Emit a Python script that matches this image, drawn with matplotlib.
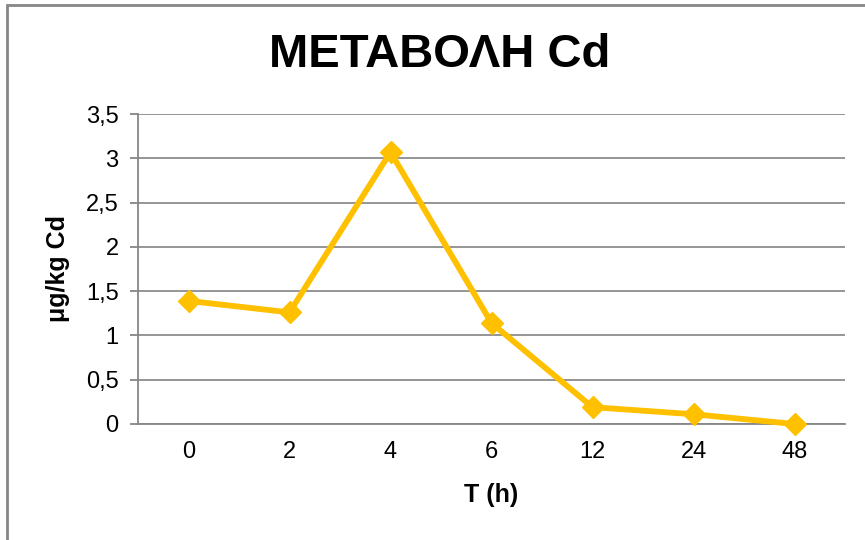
import numpy as np
import matplotlib
matplotlib.use("Agg")
import matplotlib.pyplot as plt
from matplotlib.patches import Rectangle

plt.rcParams['font.family'] = ['Liberation Sans', 'DejaVu Sans']

hours = ["0", "2", "4", "6", "12", "24", "48"]
cd = [1.39, 1.26, 3.07, 1.14, 0.19, 0.11, 0.0]
yticks = [0, 0.5, 1, 1.5, 2, 2.5, 3, 3.5]
ylabels = ["0", "0,5", "1", "1,5", "2", "2,5", "3", "3,5"]

W, H = 865, 540
fig = plt.figure(figsize=(W / 100, H / 100), dpi=100)
ax = fig.add_axes([138 / W, (H - 424) / H, (845 - 138) / W, (424 - 114) / H])

x = np.arange(len(hours))
ax.plot(x, cd, color="#FFC000", lw=4.2, marker="D", ms=11, mec="#FFC000", zorder=3,
        clip_on=False)

ax.set_xlim(-0.5, len(hours) - 0.5)
ax.set_ylim(0, 3.5)
ax.set_yticks(yticks)
ax.set_yticklabels(ylabels)
ax.set_xticks(x)
ax.set_xticklabels(hours)
ax.yaxis.grid(True, color="#8c8c8c", lw=1.3)
ax.set_axisbelow(True)
for s in ["top", "right"]:
    ax.spines[s].set_visible(False)
ax.spines["left"].set_color("#868686")
ax.spines["bottom"].set_color("#868686")
ax.spines["left"].set_linewidth(1.3)
ax.spines["bottom"].set_linewidth(1.3)
ax.tick_params(axis="y", length=6, width=1.3, color="#868686", labelsize=17, pad=8)
ax.tick_params(axis="x", length=0, labelsize=17, pad=12)

ax.set_xlabel("T (h)", fontsize=18, fontweight="bold", va="center")
ax.set_ylabel("μg/kg Cd", fontsize=18, fontweight="bold", va="center")
ax.xaxis.set_label_coords(0.5, (424 - 495) / 310)
ax.yaxis.set_label_coords((58 - 138) / 707, 0.5)

fig.text(440 / W, 1 - 55 / H, "ΜΕΤΑΒΟΛΗ Cd", fontsize=34, fontweight="bold",
         ha="center", va="center")

fig.patches.append(Rectangle((7 / W, -0.1), 1.2, 1 - 5 / H + 0.1, transform=fig.transFigure,
                             fill=False, ec="#868686", lw=2))

fig.savefig("out.png", dpi=100)
